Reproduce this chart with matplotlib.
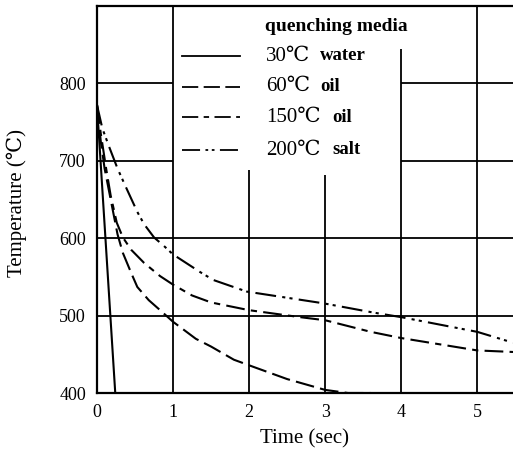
"""Cooling curves of a steel specimen in four quenching media (temperature vs time)."""
import matplotlib

matplotlib.use("Agg")

import matplotlib.pyplot as plt

plt.rcParams["font.family"] = ["Liberation Serif", "DejaVu Serif", "DejaVu Sans"]

# --- data ----------------------------------------------------------------------------
water_t = [0.0, 0.24]
water_T = [772, 400]

oil60_t = [0.0, 0.05, 0.1, 0.2, 0.27, 0.34, 0.45, 0.53, 0.68, 0.83, 1.0, 1.3, 1.5, 1.8, 2.05,
           2.5, 3.0, 3.3, 3.6]
oil60_T = [772, 725, 690, 640, 605, 581, 555, 537, 520, 507, 492, 470, 460, 443, 434,
           418, 404, 400, 400]

oil150_t = [0.0, 0.05, 0.12, 0.18, 0.26, 0.34, 0.45, 0.62, 0.83, 1.0, 1.25, 1.5, 2.0, 2.67,
            3.0, 3.6, 4.0, 5.0, 5.47]
oil150_T = [772, 735, 690, 655, 620, 601, 585, 568, 551, 540, 526, 517, 507, 498,
            494, 479, 471, 455, 453]

salt200_t = [0.0, 0.07, 0.16, 0.27, 0.38, 0.53, 0.62, 0.75, 0.88, 1.0, 1.36, 1.53, 1.97,
             2.97, 3.63, 4.0, 5.0, 5.47]
salt200_T = [772, 742, 718, 690, 666, 634, 618, 601, 590, 579, 556, 546, 531,
             516, 504, 498, 479, 465]

media_temp = ["30℃", "60℃", "150℃", "200℃"]
media_name = ["water", "oil", "oil", "salt"]

x_ticks = [0, 1, 2, 3, 4, 5]
y_ticks = [400, 500, 600, 700, 800]

# --- figure ---------------------------------------------------------------------------
fig = plt.figure(figsize=(5.13, 4.55), dpi=100)
ax = fig.add_axes([97 / 513, 62 / 455, 416 / 513, 387 / 455])
ax.set_xlim(0, 5.47)
ax.set_ylim(400, 900)

# broken grid, as in the scan (blank under the legend)
lw_grid = 1.3
ax.vlines([1, 5], 400, 900, color="black", lw=lw_grid)
ax.vlines(2, 400, 688, color="black", lw=lw_grid)
ax.vlines(3, 400, 682, color="black", lw=lw_grid)
ax.vlines(4, 400, 845, color="black", lw=lw_grid)
ax.hlines([500, 600], 0, 5.47, color="black", lw=lw_grid)
ax.hlines([700, 800], 0, 1, color="black", lw=lw_grid)
ax.hlines([700, 800], 4, 5.47, color="black", lw=lw_grid)

styles = [
    "-",
    (0, (9, 3)),
    (0, (9, 3, 3, 3)),
    (0, (10, 3, 1.5, 2, 1.5, 3)),
]
series = [(water_t, water_T), (oil60_t, oil60_T), (oil150_t, oil150_T), (salt200_t, salt200_T)]
for (t, T), ls in zip(series, styles):
    ax.plot(t, T, color="black", lw=1.5, linestyle=ls)

# hand-made legend
ax.text(0.404, 0.946, "quenching media", transform=ax.transAxes, fontsize=14,
        fontweight="bold", va="center", ha="left")
rows_y = [0.871, 0.791, 0.713, 0.628]
for y, ls, temp, name in zip(rows_y, styles, media_temp, media_name):
    ax.plot([0.204, 0.344], [y, y], transform=ax.transAxes, color="black", lw=1.3, linestyle=ls)
    ax.text(0.406, y, temp, transform=ax.transAxes, fontsize=15, va="center", ha="left")
    ax.text(0.406 + 0.03 * len(temp) + 0.04, y, name, transform=ax.transAxes, fontsize=13.5,
            fontweight="bold", va="center", ha="left")

ax.set_xticks(x_ticks)
ax.set_yticks(y_ticks)
ax.tick_params(length=0, labelsize=13, pad=8)
ax.set_xlabel("Time (sec)", fontsize=15)
ax.set_ylabel("Temperature (℃)", fontsize=15)
ax.xaxis.set_label_coords(0.5, -0.093)
ax.yaxis.set_label_coords(-0.168, 0.49)
for side in ("left", "bottom", "top"):
    ax.spines[side].set_linewidth(1.6)
ax.spines["right"].set_visible(False)

fig.savefig("out.png", dpi=100)
